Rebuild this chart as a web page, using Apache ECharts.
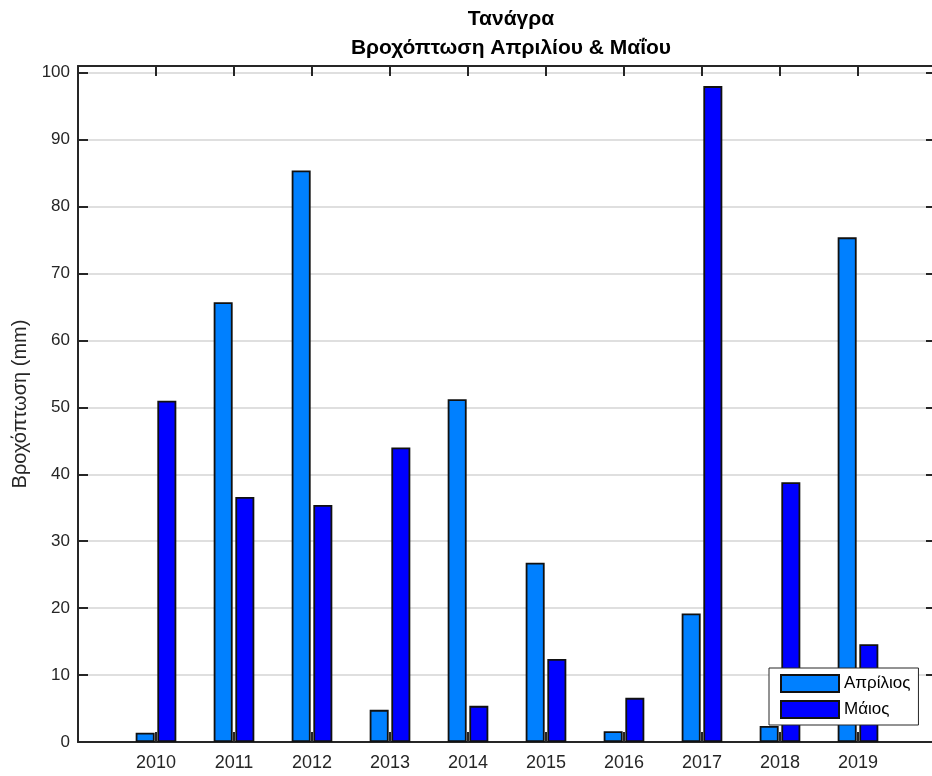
<!DOCTYPE html>
<html>
<head>
<meta charset="utf-8">
<script src="https://cdn.jsdelivr.net/npm/echarts@6/dist/echarts.min.js"></script>
<style>html,body{margin:0;padding:0;background:#fff}#c{width:932px;height:776px}</style>
</head>
<body>
<div id="c"></div>
<script>
const years = [2010, 2011, 2012, 2013, 2014, 2015, 2016, 2017, 2018, 2019];
const april = [1.4, 65.7, 85.4, 4.8, 51.2, 26.8, 1.6, 19.2, 2.4, 75.4];
const may = [51.0, 36.6, 35.4, 44.0, 5.4, 12.4, 6.6, 98.0, 38.8, 14.6];
const yTicks = [0, 10, 20, 30, 40, 50, 60, 70, 80, 90, 100];
const seriesNames = ['Απρίλιος', 'Μάιος'];
const titleText = 'Τανάγρα\nΒροχόπτωση Απριλίου & Μαΐου';
const yName = 'Βροχόπτωση (mm)';

const FONT = 'Liberation Sans, Arial, sans-serif';
const AX = '#262626';
const chart = echarts.init(document.getElementById('c'), null, {renderer: 'canvas'});

const pair = (arr) => years.map((y, i) => [y, arr[i]]);

chart.setOption({
  animation: false,
  backgroundColor: '#fff',
  title: {
    text: titleText,
    left: 506, top: 0, textAlign: 'center',
    textStyle: {fontFamily: FONT, fontSize: 21, fontWeight: 'bold', color: '#000', lineHeight: 29}
  },
  grid: {left: 78, top: 66, width: 858, height: 676, containLabel: false, outerBoundsMode: 'none'},
  legend: {
    orient: 'vertical', left: 769, top: 668,
    itemWidth: 58, itemHeight: 17, itemGap: 7, icon: 'rect',
    padding: [6, 8, 6, 11],
    backgroundColor: '#fff', borderColor: AX, borderWidth: 1,
    textStyle: {fontFamily: FONT, fontSize: 17, color: '#000'},
    data: seriesNames
  },
  xAxis: [{
    type: 'value', min: 2009, max: 2020, interval: 1, position: 'bottom',
    axisLine: {onZero: false, lineStyle: {color: AX, width: 2}},
    axisTick: {inside: true, length: 10, lineStyle: {color: AX, width: 2}},
    axisLabel: {margin: 12, fontFamily: FONT, fontSize: 18, color: AX,
      formatter: v => years.indexOf(v) >= 0 ? String(v) : ''},
    splitLine: {show: false}
  }, {
    type: 'value', min: 2009, max: 2020, interval: 1, position: 'top',
    axisLine: {show: true, onZero: false, lineStyle: {color: AX, width: 2}},
    axisTick: {show: true, inside: true, length: 10, lineStyle: {color: AX, width: 2}},
    axisLabel: {show: false}, splitLine: {show: false}
  }],
  yAxis: [{
    type: 'value', min: 0, max: 101, interval: 10, position: 'left',
    name: yName, nameLocation: 'middle', nameGap: 48, nameRotate: 90,
    nameTextStyle: {fontFamily: FONT, fontSize: 20, color: AX},
    axisLine: {show: true, onZero: false, lineStyle: {color: AX, width: 2}},
    axisTick: {show: true, inside: true, length: 10, lineStyle: {color: AX, width: 2}},
    axisLabel: {margin: 8, fontFamily: FONT, fontSize: 17, color: AX,
      formatter: v => yTicks.indexOf(v) >= 0 ? String(v) : ''},
    splitLine: {show: true, lineStyle: {color: '#dfdfdf', width: 2}}
  }, {
    type: 'value', min: 0, max: 101, interval: 10, position: 'right',
    axisLine: {show: true, onZero: false, lineStyle: {color: AX, width: 2}},
    axisTick: {show: true, inside: true, length: 10, lineStyle: {color: AX, width: 2}},
    axisLabel: {show: false}, splitLine: {show: false}
  }],
  series: [{
    name: seriesNames[0], type: 'bar', xAxisIndex: 0, yAxisIndex: 0,
    data: pair(april), barWidth: 19, barGap: '14%',
    itemStyle: {color: '#0080ff', borderColor: '#111', borderWidth: 1.8}
  }, {
    name: seriesNames[1], type: 'bar', xAxisIndex: 0, yAxisIndex: 0,
    data: pair(may), barWidth: 19, barGap: '14%',
    itemStyle: {color: '#0000ff', borderColor: '#111', borderWidth: 1.8}
  }]
});
</script>
</body>
</html>
